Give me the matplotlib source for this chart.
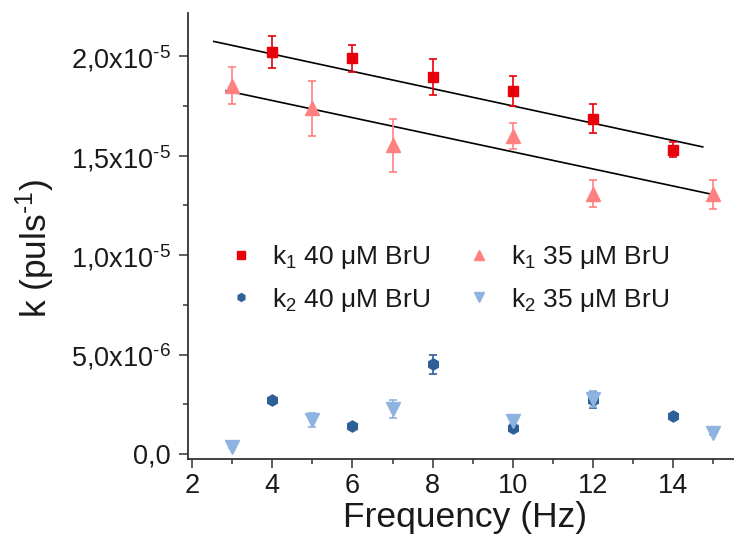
import matplotlib
matplotlib.use("Agg")
import matplotlib.pyplot as plt
from matplotlib.ticker import MultipleLocator, FixedLocator, FixedFormatter
import numpy as np

plt.rcParams['font.family'] = ['Liberation Sans', 'DejaVu Sans']
plt.rcParams['mathtext.fontset'] = 'custom'
plt.rcParams['mathtext.rm'] = 'Liberation Sans'
plt.rcParams['mathtext.it'] = 'Liberation Sans:italic'
plt.rcParams['mathtext.bf'] = 'Liberation Sans:bold'

# ---- data (values in units of 1e-6 puls^-1) ----
x_k1_40 = [4, 6, 8, 10, 12, 14]
k1_40 = [20.21, 19.91, 18.96, 18.27, 16.87, 15.31]
k1_40_err = [0.81, 0.68, 0.90, 0.74, 0.73, 0.39]

x_k1_35 = [3, 5, 7, 10, 12, 15]
k1_35 = [18.53, 17.39, 15.54, 15.99, 13.09, 13.07]
k1_35_err = [0.94, 1.38, 1.33, 0.66, 0.69, 0.73]

x_k2_40 = [4, 6, 8, 10, 12, 14]
k2_40 = [2.72, 1.43, 4.50, 1.32, 2.72, 1.93]
k2_40_err = [0.10, 0.08, 0.48, 0.15, 0.40, 0.10]

x_k2_35 = [3, 5, 7, 10, 12, 15]
k2_35 = [0.33, 1.70, 2.25, 1.65, 2.75, 1.07]
k2_35_err = [0.05, 0.36, 0.46, 0.15, 0.40, 0.10]

# linear fits (slope per Hz, intercept), x range
fit_k1_40_slope, fit_k1_40_intercept = -0.435, 21.86
fit_k1_40_range = [2.54, 14.74]
fit_k1_35_slope, fit_k1_35_intercept = -0.430, 19.50
fit_k1_35_range = [2.85, 15.0]

labels = [r'k$_{\mathregular{1}}$ 40 μM BrU', r'k$_{\mathregular{1}}$ 35 μM BrU',
          r'k$_{\mathregular{2}}$ 40 μM BrU', r'k$_{\mathregular{2}}$ 35 μM BrU']

ytick_vals = [0.0, 5.0, 10.0, 15.0, 20.0]
ytick_labels = ['0,0', r'5,0x10$^{\text{-6}}$', r'1,0x10$^{\text{-5}}$',
                r'1,5x10$^{\text{-5}}$', r'2,0x10$^{\text{-5}}$']
xtick_vals = [2, 4, 6, 8, 10, 12, 14]

scale = 1e-6
def s(v):
    return np.asarray(v) * scale

c_red = '#E8000B'
c_pink = '#FF8080'
c_dblue = '#2E5F96'
c_lblue = '#8FB3E0'

fig = plt.figure(figsize=(7.34, 5.37), dpi=100)
ax = fig.add_axes([187.7/734, 1-459.3/537, (734-187.7)/734, (459.3-12.7)/537])

ebkw = dict(linestyle='none', capsize=3.2, elinewidth=1.2, capthick=1.2)

# fit lines
for sl, ic, rg in [(fit_k1_40_slope, fit_k1_40_intercept, fit_k1_40_range),
                   (fit_k1_35_slope, fit_k1_35_intercept, fit_k1_35_range)]:
    xx = np.array(rg)
    ax.plot(xx, s(ic + sl*xx), color='black', lw=1.2, zorder=2)

h1 = ax.errorbar(x_k1_40, s(k1_40), yerr=s(k1_40_err), marker='s', ms=7.5,
                 color=c_red, ecolor=c_red, zorder=3, **ebkw)
h2 = ax.errorbar(x_k1_35, s(k1_35), yerr=s(k1_35_err), marker='^', ms=9.5,
                 color=c_pink, ecolor=c_pink, zorder=3, **ebkw)
h3 = ax.errorbar(x_k2_40, s(k2_40), yerr=s(k2_40_err), marker='h', ms=8,
                 color=c_dblue, ecolor=c_dblue, zorder=3, **ebkw)
h4 = ax.errorbar(x_k2_35, s(k2_35), yerr=s(k2_35_err), marker='v', ms=9.5,
                 color=c_lblue, ecolor=c_lblue, zorder=3, **ebkw)

ax.set_xlim(1.89, 15.52)
ax.set_ylim(-0.27e-6, 22.2e-6)

ax.xaxis.set_major_locator(FixedLocator(xtick_vals))
ax.xaxis.set_minor_locator(MultipleLocator(1))
ax.yaxis.set_major_locator(FixedLocator(s(ytick_vals)))
ax.yaxis.set_major_formatter(FixedFormatter(ytick_labels))
ax.yaxis.set_minor_locator(MultipleLocator(2.5e-6))

for sp in ['top', 'right']:
    ax.spines[sp].set_visible(False)
for sp in ['left', 'bottom']:
    ax.spines[sp].set_linewidth(1.3)
    ax.spines[sp].set_color('#333333')

ax.tick_params(axis='both', which='major', direction='out', length=6.5, width=1.1,
               color='#333333', labelsize=19.5, labelcolor='#1a1a1a')
ax.tick_params(axis='both', which='minor', direction='out', length=3.5, width=1.1,
               color='#333333')
ax.tick_params(axis='x', which='major', pad=3.5)
ax.tick_params(axis='y', which='major', pad=6)

fig.text(465/734, 1-517/537, 'Frequency (Hz)', ha='center', va='center',
         fontsize=25.5, color='#1a1a1a')
fig.text(35/734, 1-248/537, r'k (puls$^{\text{-1}}$)', ha='center', va='center',
         rotation=90, fontsize=25.5, color='#1a1a1a')

leg = fig.legend([h1[0], h3[0], h2[0], h4[0]],
                 [labels[0], labels[2], labels[1], labels[3]],
                 ncol=2, frameon=False, loc='upper left',
                 bbox_to_anchor=(228/734, 1-243/537), borderaxespad=0, borderpad=0,
                 fontsize=19, handlelength=1.0, handletextpad=0.68,
                 columnspacing=1.35, labelspacing=0.55, markerscale=0.7)
for t in leg.get_texts():
    t.set_color('#1a1a1a')

fig.savefig('out.png', dpi=100)
